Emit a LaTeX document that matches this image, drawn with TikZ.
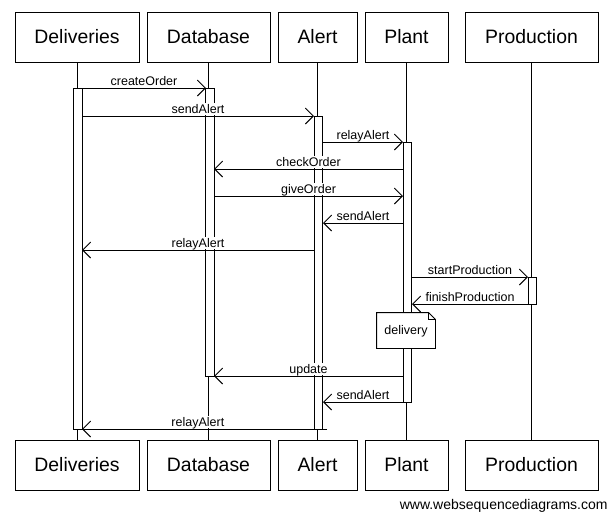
\documentclass[tikz,border=0pt]{standalone}
\usepackage{fontspec}
\setmainfont{Liberation Sans}
\usetikzlibrary{arrows.meta}
\begin{document}
\begin{tikzpicture}[x=1pt,y=-1pt,line width=0.9pt,
  part/.style={draw,fill=white,minimum height=50pt,inner sep=0pt,font=\fontsize{19.4}{23}\selectfont},
  actbox/.style={draw,fill=white,inner sep=0pt,minimum width=8.5pt},
  msg/.style={-{Straight Barb[length=8pt,width=16pt]}},
  lbl/.style={anchor=base,yshift=3pt,fill=white,inner sep=1pt,text height=9pt,text depth=1pt,font=\fontsize{12.5}{15}\selectfont},
  notetext/.style={fill=white,inner sep=0pt,minimum width=58pt,minimum height=35pt,text depth=0.5pt,font=\fontsize{12.5}{15}\selectfont}]
\useasboundingbox (0,0) rectangle (611,512);
% participants
\node[part,minimum width=124pt] (delT) at (77,37) {Deliveries};
\node[part,minimum width=123pt] (dbT) at (208.5,37) {Database};
\node[part,minimum width=79pt] (alT) at (317.5,37) {Alert};
\node[part,minimum width=83pt] (plT) at (406.5,37) {Plant};
\node[part,minimum width=133pt] (prT) at (531.5,37) {Production};
\node[part,minimum width=124pt] (delB) at (77,465) {Deliveries};
\node[part,minimum width=123pt] (dbB) at (208.5,465) {Database};
\node[part,minimum width=79pt] (alB) at (317.5,465) {Alert};
\node[part,minimum width=83pt] (plB) at (406.5,465) {Plant};
\node[part,minimum width=133pt] (prB) at (531.5,465) {Production};
% lifelines
\draw (delT.south) -- (delB.north);
\draw (dbT.south) -- (dbB.north);
\draw (alT.south) -- (alB.north);
\draw (plT.south) -- (plB.north);
\draw (prT.south) -- (prB.north);
% activations
\node[actbox,minimum height=341pt] (aDel) at (78,258.5) {};
\node[actbox,minimum height=288pt] (aDb) at (210,232) {};
\node[actbox,minimum height=313pt] (aAl) at (318.5,272.5) {};
\node[actbox,minimum height=260pt] (aPl) at (407.5,272) {};
\node[actbox,minimum height=27pt] (aPr) at (532.5,290.5) {};
% message end points
\coordinate (m1s) at (82,88);   \coordinate (m1e) at (206,88);
\coordinate (m2s) at (82,116);  \coordinate (m2e) at (314,116);
\coordinate (m3s) at (323,142); \coordinate (m3e) at (403,142);
\coordinate (m4s) at (403,169); \coordinate (m4e) at (214,169);
\coordinate (m5s) at (214,196); \coordinate (m5e) at (403,196);
\coordinate (m6s) at (403,223); \coordinate (m6e) at (323,223);
\coordinate (m7s) at (314,250); \coordinate (m7e) at (82,250);
\coordinate (m8s) at (412,277); \coordinate (m8e) at (528,277);
\coordinate (m9s) at (528,304); \coordinate (m9e) at (412,304);
\coordinate (m10s) at (403,376); \coordinate (m10e) at (214,376);
\coordinate (m11s) at (403,402); \coordinate (m11e) at (323,402);
\coordinate (m12s) at (327,429); \coordinate (m12e) at (82,429);
% messages
\draw[msg] (m1s) -- node[lbl] (l1) {createOrder} (m1e);
\draw[msg] (m2s) -- node[lbl] (l2) {sendAlert} (m2e);
\draw[msg] (m3s) -- node[lbl] (l3) {relayAlert} (m3e);
\draw[msg] (m4s) -- node[lbl] (l4) {checkOrder} (m4e);
\draw[msg] (m5s) -- node[lbl] (l5) {giveOrder} (m5e);
\draw[msg] (m6s) -- node[lbl] (l6) {sendAlert} (m6e);
\draw[msg] (m7s) -- node[lbl] (l7) {relayAlert} (m7e);
\draw[msg] (m8s) -- node[lbl] (l8) {startProduction} (m8e);
\draw[msg] (m9s) -- node[lbl] (l9) {finishProduction} (m9e);
\draw[msg] (m10s) -- node[lbl] (l10) {update} (m10e);
\draw[msg] (m11s) -- node[lbl] (l11) {sendAlert} (m11e);
\draw[msg] (m12s) -- node[lbl,pos=0.527] (l12) {relayAlert} (m12e);
% note
\node[notetext] (note) at (406,330.5) {delivery};
\draw (note.north west) -- ([xshift=-7pt]note.north east) -- ([yshift=-7pt]note.north east)
  -- (note.south east) -- (note.south west) -- cycle;
\draw ([xshift=-7pt]note.north east) -- ([xshift=-7pt,yshift=-7pt]note.north east) -- ([yshift=-7pt]note.north east);
% footer
\node[anchor=base east,inner sep=0pt,font=\fontsize{14}{16}\selectfont] (footer) at (608,509) {www.websequencediagrams.com};
\end{tikzpicture}
\end{document}
